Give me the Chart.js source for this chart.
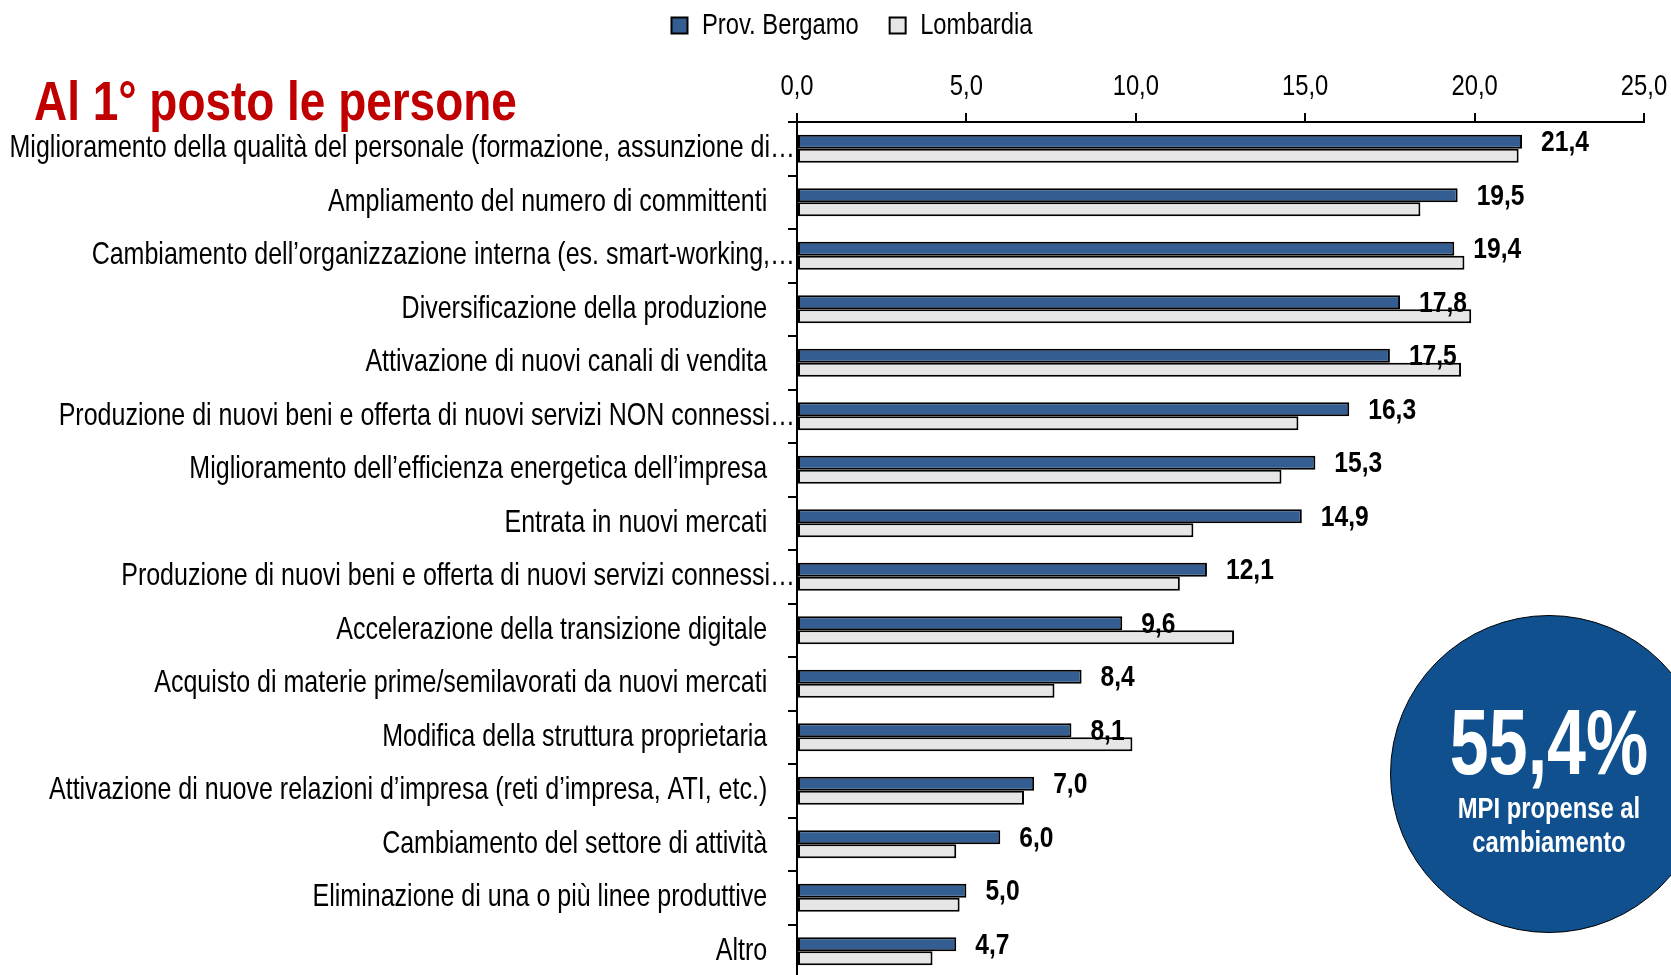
<!DOCTYPE html>
<html>
<head>
<meta charset="utf-8">
<script src="https://cdn.jsdelivr.net/npm/chart.js@4.4.1/dist/chart.umd.min.js"></script>
<style>
  html, body { margin: 0; padding: 0; background: #fff; overflow: hidden; }
  #wrap { position: relative; width: 1671px; height: 978px; }
  .narrow { font-family: 'Liberation Sans', Arial, sans-serif; }
  #title {
    position: absolute; left: 34px; top: 73px;
    font-size: 56px; line-height: 56px; font-weight: bold; color: #c00000;
    white-space: nowrap; transform: scaleX(0.82); transform-origin: 0 0;
  }
  #badge {
    position: absolute; left: 1390px; top: 615px; width: 318px; height: 318px;
    box-sizing: border-box; border-radius: 50%; border: 1.5px solid #000;
    background: #10508f; color: #fff; font-weight: bold;
  }
  #badge div { position: absolute; left: 0; width: 100%; text-align: center; white-space: nowrap; }
  #badge .big { top: 80px; font-size: 92px; line-height: 92px; transform: scaleX(0.76); }
  #badge .sub { font-size: 29px; line-height: 29px; transform: scaleX(0.82); }
</style>
</head>
<body>
<div id="wrap">
  <canvas id="chart"></canvas>
  <div id="title" class="narrow">Al 1° posto le persone</div>
  <div id="badge" class="narrow">
    <div class="big">55,4%</div>
    <div class="sub" style="top:178px">MPI propense al</div>
    <div class="sub" style="top:212px">cambiamento</div>
  </div>
</div>
<script>
const FONT = "'Liberation Sans', Arial, sans-serif";
const NARROW = 0.82; // squeeze Liberation Sans to look like Arial Narrow

const categories = [
    'Miglioramento della qualità del personale (formazione, assunzione di…',
    'Ampliamento del numero di committenti',
    'Cambiamento dell’organizzazione interna (es. smart-working,…',
    'Diversificazione della produzione',
    'Attivazione di nuovi canali di vendita',
    'Produzione di nuovi beni e offerta di nuovi servizi NON connessi…',
    'Miglioramento dell’efficienza energetica dell’impresa',
    'Entrata in nuovi mercati',
    'Produzione di nuovi beni e offerta di nuovi servizi connessi…',
    'Accelerazione della transizione digitale',
    'Acquisto di materie prime/semilavorati da nuovi mercati',
    'Modifica della struttura proprietaria',
    'Attivazione di nuove relazioni d’impresa (reti d’impresa, ATI, etc.)',
    'Cambiamento del settore di attività',
    'Eliminazione di una o più linee produttive',
    'Altro'
];
const bergamo = [21.4, 19.5, 19.4, 17.8, 17.5, 16.3, 15.3, 14.9, 12.1, 9.6, 8.4, 8.1, 7.0, 6.0, 5.0, 4.7];
const lombardia = [21.3, 18.4, 19.7, 19.9, 19.6, 14.8, 14.3, 11.7, 11.3, 12.9, 7.6, 9.9, 6.7, 4.7, 4.8, 4.0];
const seriesNames = ['Prov. Bergamo', 'Lombardia'];
const xTicks = [0, 5, 10, 15, 20, 25];

const fmt = v => v.toFixed(1).replace('.', ',');
// labels without the ellipsis sit a little further from the axis
const yLabels = categories.map(c => c.endsWith('…') ? c : c + '    ');

// every text on the canvas is drawn horizontally squeezed
const canvas = document.getElementById('chart');
const c2d = canvas.getContext('2d');
const rawFill = c2d.fillText;
const rawMeasure = c2d.measureText;
c2d.fillText = function (text, x, y) {
    this.save();
    this.translate(x, y);
    this.scale(NARROW, 1);
    rawFill.call(this, text, 0, 0);
    this.restore();
};
c2d.measureText = function (text) {
    const m = rawMeasure.call(this, text);
    return {
        width: m.width * NARROW,
        actualBoundingBoxAscent: m.actualBoundingBoxAscent,
        actualBoundingBoxDescent: m.actualBoundingBoxDescent,
        actualBoundingBoxLeft: m.actualBoundingBoxLeft * NARROW,
        actualBoundingBoxRight: m.actualBoundingBoxRight * NARROW
    };
};

const valueLabels = {
    id: 'valueLabels',
    afterDatasetsDraw(chart) {
        const ctx = chart.ctx;
        const meta = chart.getDatasetMeta(0);
        ctx.save();
        ctx.font = 'bold 30px ' + FONT;
        ctx.fillStyle = '#000';
        ctx.textAlign = 'left';
        ctx.textBaseline = 'middle';
        meta.data.forEach((bar, i) => {
            ctx.fillText(fmt(bergamo[i]), bar.x + 19, bar.y + 1);
        });
        ctx.restore();
    }
};

// legend sits a bit right of the canvas centre
const legendShift = {
    id: 'legendShift',
    afterLayout(chart) {
        chart.legend.left += 30;
        chart.legend.right += 30;
    }
};

new Chart(canvas, {
    type: 'bar',
    data: {
        labels: yLabels,
        datasets: [{
            label: seriesNames[0],
            data: bergamo,
            backgroundColor: '#345e91',
            borderColor: '#000',
            borderWidth: 2,
            borderSkipped: false
        }, {
            label: seriesNames[1],
            data: lombardia,
            backgroundColor: '#e6e6e6',
            borderColor: '#000',
            borderWidth: 2,
            borderSkipped: false
        }]
    },
    options: {
        indexAxis: 'y',
        responsive: true,
        maintainAspectRatio: false,
        animation: false,
        categoryPercentage: 0.524,
        barPercentage: 1,
        layout: { padding: { top: 0, right: 27, bottom: 0, left: 0 } },
        plugins: {
            legend: {
                position: 'top',
                labels: {
                    color: '#000',
                    font: { family: FONT, size: 29 },
                    boxWidth: 16,
                    boxHeight: 16,
                    padding: 11,
                    generateLabels(chart) {
                        return chart.data.datasets.map((ds, i) => ({
                            text: i === 0 ? ds.label + '   ' : ds.label,
                            fillStyle: ds.backgroundColor,
                            strokeStyle: '#000',
                            lineWidth: 2,
                            datasetIndex: i
                        }));
                    }
                }
            },
            tooltip: { enabled: false }
        },
        scales: {
            x: {
                position: 'top',
                min: 0,
                max: 25,
                afterBuildTicks(scale) {
                    scale.ticks = xTicks.map(v => ({ value: v }));
                },
                afterFit(scale) {
                    scale.height = 72;
                    scale.paddingLeft = 0;
                    scale.paddingRight = 0;
                },
                ticks: {
                    color: '#000',
                    font: { family: FONT, size: 29 },
                    padding: 9,
                    maxRotation: 0,
                    callback: v => fmt(v)
                },
                grid: {
                    drawOnChartArea: false,
                    drawTicks: true,
                    tickLength: 9,
                    color: '#000',
                    lineWidth: 2
                },
                border: { display: true, color: '#000', width: 2 }
            },
            y: {
                afterFit(scale) {
                    scale.width = 797;
                    scale.paddingTop = 0;
                    scale.paddingBottom = 0;
                },
                ticks: {
                    color: '#000',
                    font: { family: FONT, size: 30.5 },
                    padding: -7,
                    autoSkip: false
                },
                grid: {
                    drawOnChartArea: false,
                    drawTicks: true,
                    tickLength: 9,
                    color: '#000',
                    lineWidth: 2
                },
                border: { display: true, color: '#000', width: 2 }
            }
        }
    },
    plugins: [valueLabels, legendShift]
});
</script>
</body>
</html>
